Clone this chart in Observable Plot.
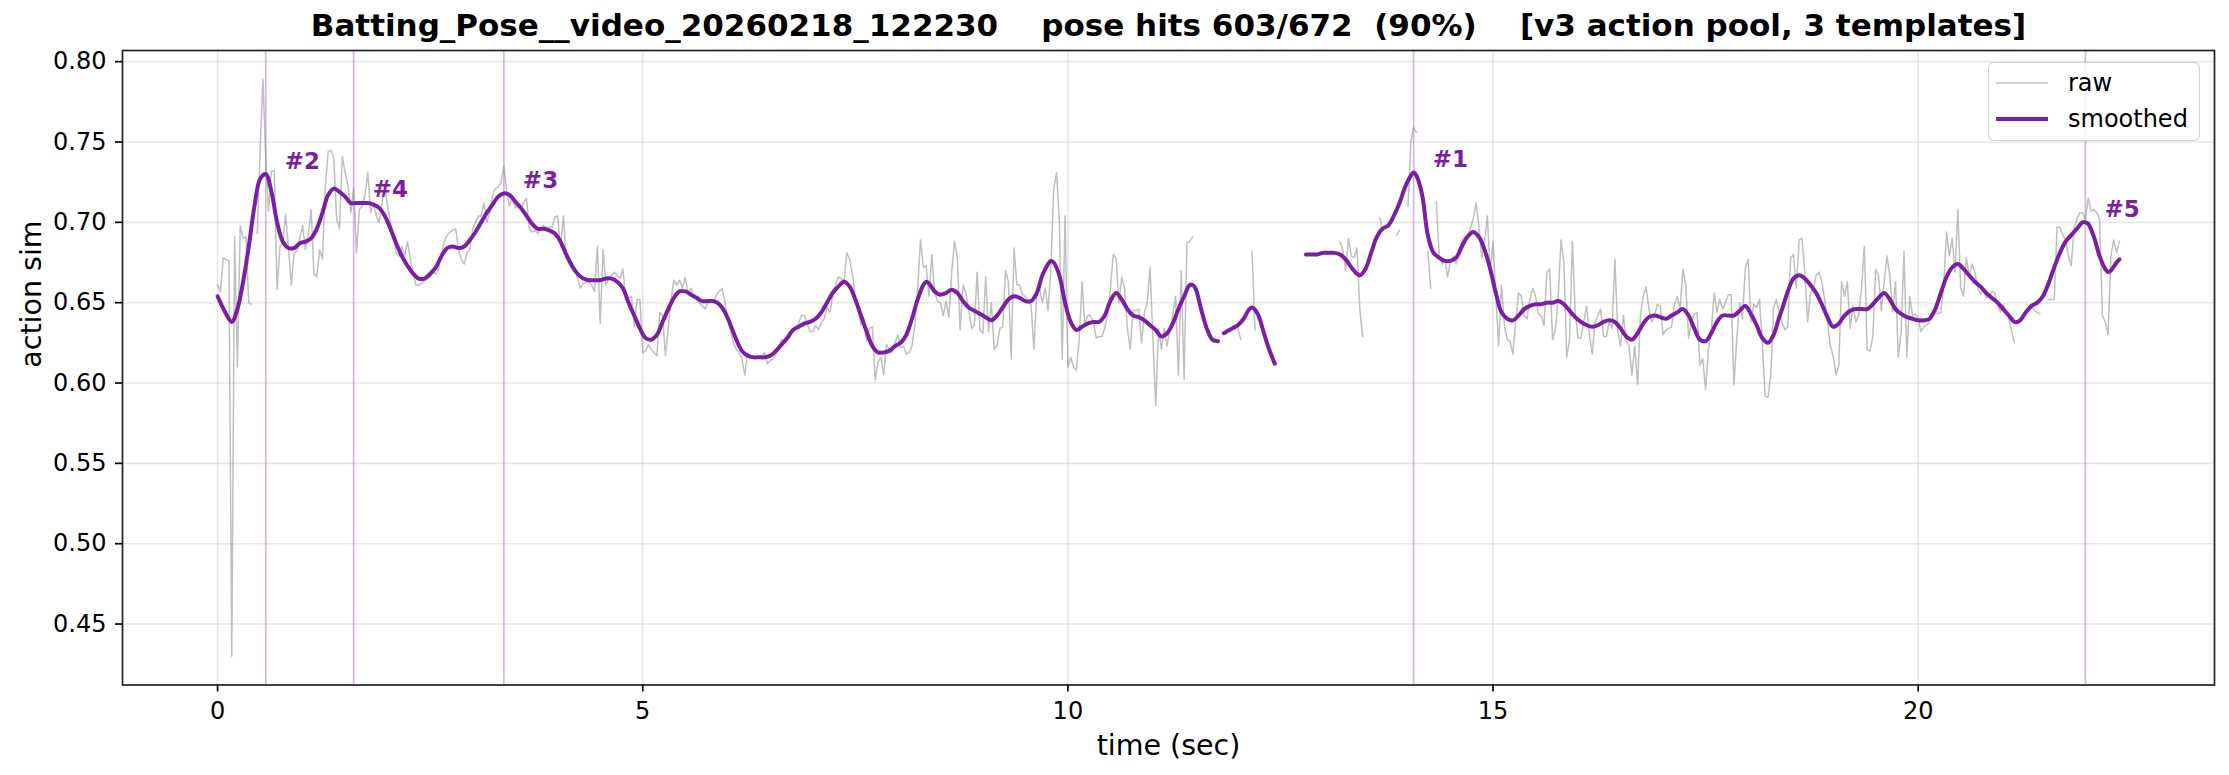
<!DOCTYPE html>
<html>
<head>
<meta charset="utf-8">
<script src="https://cdn.jsdelivr.net/npm/d3@7"></script>
<script src="https://cdn.jsdelivr.net/npm/@observablehq/plot@0.6"></script>
<style>
  html, body { margin: 0; padding: 0; background: #fff; }
  #wrap { position: relative; width: 2229px; height: 775px; font-family: "DejaVu Sans", sans-serif; }
  #legend { position: absolute; left: 1988px; top: 62px; width: 212px; height: 79px;
    border: 1.6px solid rgba(204,204,204,0.9); border-radius: 6px; background: rgba(255,255,255,0.8); box-sizing: border-box; }
  #legend .row { position: absolute; left: 0; height: 30px; display: flex; align-items: center; }
  #legend .sw { width: 52px; margin-left: 7px; margin-right: 20px; }
  #legend .lab { font-size: 24px; color: #000; }
</style>
</head>
<body>
<div id="wrap"></div>
<script>
const FPS = 30;
const titleText = "Batting_Pose__video_20260218_122230    pose hits 603/672  (90%)    [v3 action pool, 3 templates]";
const xLabel = "time (sec)";
const yLabel = "action sim";
const xTicks = [0, 5, 10, 15, 20];
const yTicks = [0.45, 0.50, 0.55, 0.60, 0.65, 0.70, 0.75, 0.80];
const seriesNames = ["raw", "smoothed"];

// raw per-frame action similarity (null = no pose)
const rawV = [
0.661,0.657,0.678,0.677,0.676,0.430,0.691,0.610,0.698,0.690,0.691,0.650,0.649,null,0.693,0.745,0.789,0.740,0.707,0.732,
0.732,0.658,0.685,0.687,0.705,0.685,0.661,0.681,0.682,0.690,0.698,0.683,0.692,0.708,0.668,0.666,0.683,0.677,0.722,0.744,
0.745,0.740,0.702,0.696,0.741,0.731,0.723,0.706,0.721,0.681,0.708,0.710,0.717,0.731,0.706,0.712,0.704,0.700,0.712,0.722,
0.710,0.700,0.692,0.681,0.679,0.685,0.679,0.688,0.677,0.669,0.661,0.661,0.662,0.664,0.665,0.666,0.669,0.668,0.671,0.681,
0.688,0.692,0.694,0.695,0.696,0.683,0.677,0.674,0.681,0.683,0.696,0.700,0.704,0.704,0.712,0.700,0.706,0.717,0.721,0.722,
0.725,0.735,0.719,0.710,0.715,0.709,0.710,0.708,0.712,0.715,0.696,0.694,0.695,0.693,0.696,0.698,0.697,0.697,0.697,0.703,
0.704,0.684,0.704,0.677,0.677,0.675,0.671,0.665,0.659,0.662,0.663,0.663,0.661,0.657,0.685,0.637,0.683,0.661,0.665,0.667,
0.669,0.667,0.665,0.671,0.652,0.653,0.654,0.635,0.652,0.652,0.619,0.620,0.624,0.621,0.619,0.617,0.644,0.642,0.617,0.634,
0.652,0.664,0.661,0.664,0.659,0.666,0.656,0.659,0.654,0.652,0.650,0.648,0.646,0.650,0.650,0.650,0.655,0.657,0.659,0.650,
0.640,0.632,0.625,0.621,0.619,0.615,0.605,0.619,0.617,0.616,0.616,0.616,0.617,0.619,0.612,0.614,0.615,0.618,0.623,0.627,
0.627,0.629,0.632,0.632,0.635,0.637,0.642,0.642,0.637,0.632,0.632,0.636,0.633,0.638,0.640,0.647,0.644,0.654,0.661,0.666,
0.665,0.663,0.681,0.677,0.667,0.654,0.646,0.636,0.640,0.626,0.634,0.635,0.602,0.613,0.616,0.605,0.624,0.621,0.619,0.625,
0.630,0.622,0.623,0.618,0.619,0.623,0.636,0.659,0.689,0.672,0.673,0.654,0.680,0.656,0.651,0.650,0.642,0.651,0.641,0.669,
0.688,0.678,0.633,0.661,0.656,0.646,0.634,0.636,0.669,0.633,0.631,0.666,0.632,0.650,0.621,0.623,0.634,0.635,0.670,0.663,
0.615,0.684,0.661,0.661,0.655,0.654,0.650,0.649,0.621,0.654,0.659,0.650,0.659,0.645,0.671,0.721,0.731,0.700,0.615,0.704,
0.610,0.616,0.610,0.608,0.627,0.663,0.636,0.642,0.642,0.638,0.628,0.629,0.629,0.634,0.642,0.659,0.680,0.678,0.650,0.666,
0.659,0.634,0.621,0.645,0.645,0.646,0.625,0.644,0.650,0.672,0.627,0.586,0.634,0.621,0.634,0.623,0.634,0.642,0.654,0.605,
0.670,0.602,0.687,0.688,0.691,null,null,null,null,null,null,null,null,null,null,null,null,null,null,null,
0.634,0.627,null,null,null,0.682,0.633,null,null,null,null,null,null,null,null,null,null,null,null,null,
null,null,null,null,null,null,null,null,null,null,null,null,null,null,null,null,0.688,0.683,0.670,0.690,
0.679,0.678,0.684,0.646,0.629,null,null,null,null,null,0.703,0.695,null,null,null,null,0.692,0.695,null,null,
0.710,0.750,0.759,0.756,null,null,null,0.682,0.659,null,0.713,0.679,0.674,0.677,0.666,0.676,0.679,0.674,0.683,0.688,
0.691,0.691,0.696,0.702,0.712,0.698,0.678,0.688,0.704,0.669,0.688,0.654,0.623,0.661,0.636,0.627,0.626,0.618,0.638,0.656,
0.654,0.642,0.640,0.652,0.659,0.654,0.643,0.642,0.636,0.669,0.671,0.627,0.633,0.654,0.689,0.675,0.616,0.627,0.688,0.644,
0.628,0.628,0.638,0.648,0.630,0.618,0.638,0.642,0.646,0.629,0.629,0.638,0.634,0.677,0.632,0.623,0.642,0.626,0.623,0.605,
0.623,0.599,0.642,0.654,0.660,0.646,0.638,0.642,0.649,0.648,0.630,0.633,0.634,0.635,0.649,0.654,0.646,0.671,0.661,0.628,
0.638,0.643,0.644,0.611,0.615,0.596,0.621,0.632,0.656,0.644,0.652,0.646,0.650,0.655,0.655,0.599,0.627,0.650,0.640,0.671,
0.677,0.638,0.649,0.647,0.652,0.625,0.592,0.591,0.605,0.647,0.652,0.644,0.638,0.633,0.635,0.678,0.680,0.659,0.689,0.690,
0.669,0.638,0.656,0.659,0.667,0.669,0.663,0.652,0.638,0.623,0.617,0.605,0.611,0.663,0.654,0.663,0.634,0.648,0.638,0.642,
0.659,0.685,0.621,0.620,0.629,0.671,0.667,0.645,0.663,0.679,0.667,0.644,0.663,0.616,0.632,0.682,0.616,0.654,0.642,0.643,
0.640,0.632,0.635,0.636,0.638,0.643,0.644,0.643,0.644,0.661,0.694,0.679,0.690,0.669,0.708,0.659,0.654,0.678,0.667,0.674,
0.669,0.659,0.655,0.659,0.653,0.654,0.657,0.656,0.649,0.644,0.649,0.644,0.640,0.632,0.625,null,null,null,null,null,
0.648,0.645,0.644,0.643,null,null,0.652,0.652,0.652,0.697,0.697,0.692,0.689,0.679,0.673,0.696,0.702,0.706,0.706,0.702,
0.715,0.707,0.708,0.706,0.702,0.642,0.638,0.630,0.679,0.689,0.681,0.688
];

// smoothed curve, sampled (frame index, value); null marks a break
const smoothIdx = [
0,3,5,7,9,11,13,15,17,19,21,23,25,27,29,31,33,35,37,39,41,43,45,47,49,51,53,55,57,59,61,63,65,67,69,71,73,75,77,79,
81,83,85,87,89,91,93,95,97,99,101,103,105,107,109,111,113,115,117,119,121,123,125,127,129,131,133,135,137,139,141,143,145,147,149,151,153,155,157,159,
161,163,165,167,169,171,173,175,177,179,181,183,185,187,189,191,193,195,197,199,201,203,205,207,209,211,213,215,217,219,221,223,225,227,229,231,233,235,237,239,
241,243,245,247,249,250,251,253,255,257,259,261,263,265,267,269,271,273,275,277,279,281,283,285,287,289,291,293,294,295,297,299,301,303,305,307,309,311,313,315,
317,319,321,323,325,327,329,331,333,335,337,339,341,343,344,345,347,349,351,353,354,
355,356,358,360,362,364,365,367,369,371,373,374,
384,386,388,390,392,394,396,398,400,402,403,405,407,409,411,413,415,417,419,421,422,423,425,427,429,431,433,435,437,439,
441,443,445,447,449,451,453,455,457,459,461,463,465,467,469,471,473,475,477,479,481,483,485,487,489,491,493,495,497,499,
501,503,505,507,509,511,513,515,517,519,521,523,525,527,529,531,533,535,537,539,541,543,545,547,549,551,552,554,556,558,
560,562,564,566,568,570,572,574,576,578,580,582,584,586,588,590,592,594,596,598,600,602,604,606,608,610,612,614,616,618,
620,622,624,626,628,630,632,634,635,636,638,640,642,644,646,648,650,652,654,656,658,659,660,662,664,666,667,668,670,671
];
const smoothVal = [
0.654,0.643,0.638,0.646,0.663,0.685,0.710,0.727,0.730,0.719,0.700,0.688,0.684,0.684,0.687,0.688,0.690,0.696,0.706,0.717,
0.721,0.719,0.716,0.712,0.712,0.712,0.712,0.711,0.709,0.704,0.696,0.687,0.679,0.673,0.668,0.665,0.665,0.668,0.672,0.679,
0.684,0.685,0.684,0.685,0.689,0.694,0.700,0.706,0.711,0.716,0.718,0.717,0.713,0.709,0.704,0.699,0.696,0.696,0.695,0.693,
0.688,0.680,0.673,0.668,0.665,0.664,0.664,0.664,0.665,0.665,0.663,0.659,0.650,0.642,0.634,0.628,0.627,0.630,0.638,0.646,
0.653,0.657,0.657,0.655,0.653,0.651,0.651,0.651,0.649,0.644,0.636,0.627,0.620,0.617,0.616,0.616,0.616,0.617,0.620,0.624,
0.628,0.633,0.635,0.637,0.638,0.640,0.644,0.650,0.656,0.660,0.663,0.660,0.652,0.642,0.632,0.623,0.619,0.619,0.620,0.623,
0.625,0.630,0.640,0.652,0.661,0.663,0.662,0.657,0.655,0.656,0.658,0.656,0.651,0.647,0.645,0.643,0.641,0.639,0.642,0.647,
0.652,0.654,0.653,0.651,0.651,0.656,0.667,0.674,0.676,0.675,0.667,0.650,0.638,0.633,0.635,0.637,0.638,0.638,0.642,0.651,
0.656,0.652,0.646,0.642,0.641,0.639,0.636,0.633,0.629,0.631,0.637,0.646,0.654,0.661,0.661,0.659,0.646,0.634,0.627,0.626,null,
0.631,0.632,0.634,0.636,0.640,0.646,0.647,0.643,0.632,0.621,0.612,null,
0.680,0.680,0.680,0.681,0.681,0.681,0.680,0.677,0.672,0.668,0.667,0.671,0.681,0.691,0.696,0.698,0.704,0.712,0.722,0.729,
0.731,0.729,0.717,0.692,0.681,0.678,0.676,0.676,0.678,0.685,
0.691,0.694,0.691,0.683,0.671,0.656,0.644,0.640,0.639,0.642,0.646,0.648,0.649,0.649,0.650,0.650,0.651,0.649,0.645,0.641,
0.638,0.636,0.635,0.636,0.638,0.639,0.638,0.634,0.629,0.627,
0.631,0.637,0.641,0.642,0.641,0.640,0.642,0.644,0.646,0.642,0.634,0.627,0.626,0.631,0.638,0.642,0.642,0.642,0.645,0.648,
0.643,0.636,0.628,0.625,0.630,0.641,0.646,0.657,0.665,0.667,
0.665,0.661,0.656,0.649,0.641,0.635,0.637,0.642,0.645,0.646,0.646,0.646,0.649,0.653,0.656,0.652,0.646,0.643,0.641,0.640,
0.639,0.639,0.640,0.646,0.656,0.666,0.672,0.674,0.671,0.667,
0.663,0.660,0.656,0.653,0.650,0.646,0.642,0.638,0.638,0.639,0.644,0.648,0.650,0.654,0.662,0.672,0.681,0.688,0.692,0.696,
0.700,0.700,0.699,0.691,0.679,0.671,0.669,0.670,0.675,0.677
];

// detected action peaks
const peakLabels = ["#1", "#2", "#3", "#4", "#5"];
const peakFrames = [422, 17, 101, 48, 659];
const peakVals = [0.731, 0.730, 0.718, 0.712, 0.700];

const PURPLE = "#7b1fa2";

const rawData = rawV.map((v, i) => ({t: i / FPS, v}));
const smoothData = smoothIdx.map((f, k) => ({t: f / FPS, v: smoothVal[k]}));
const peaks = peakLabels.map((l, k) => ({label: l, t: peakFrames[k] / FPS, v: peakVals[k]}));

const tMax = (rawV.length - 1) / FPS;
const vals = rawV.filter(v => v != null);
const vMin = d3.min(vals), vMax = d3.max(vals);
const xPad = tMax * 0.05, yPad = (vMax - vMin) * 0.05;

const chart = Plot.plot({
  width: 2229,
  height: 775,
  marginLeft: 122,
  marginRight: 15,
  marginTop: 50,
  marginBottom: 90.5,
  style: {fontFamily: "DejaVu Sans", fontSize: "24px", color: "#000", background: "#fff", overflow: "visible"},
  x: {domain: [-xPad, tMax + xPad]},
  y: {domain: [vMin - yPad, vMax + yPad]},
  marks: [
    Plot.gridX(xTicks, {stroke: "#b0b0b0", strokeOpacity: 0.3, strokeWidth: 1.6}),
    Plot.gridY(yTicks, {stroke: "#b0b0b0", strokeOpacity: 0.3, strokeWidth: 1.6}),
    Plot.ruleX(peaks, {x: "t", stroke: PURPLE, strokeOpacity: 0.32, strokeWidth: 1.7}),
    Plot.line(rawData, {x: "t", y: "v", stroke: "gray", strokeOpacity: 0.5, strokeWidth: 1.5}),
    Plot.line(smoothData, {x: "t", y: "v", stroke: PURPLE, strokeWidth: 4, curve: "catmull-rom"}),
    Plot.text(peaks, {x: "t", y: "v", text: "label", dx: 19, dy: -13, textAnchor: "start", fill: PURPLE, fontWeight: "bold", fontSize: 23}),
    Plot.frame({stroke: "#222", strokeWidth: 1.7}),
    Plot.axisX(xTicks, {tickSize: 7, tickPadding: 9.5, fontSize: 24, strokeWidth: 1.7, label: null}),
    Plot.axisY(yTicks, {tickSize: 7, tickPadding: 9, fontSize: 24, strokeWidth: 1.7, tickFormat: d3.format(".2f"), label: null}),
    Plot.text([titleText], {frameAnchor: "top", dy: -24, fontSize: 31, fontWeight: "bold", lineAnchor: "middle", fill: "#000"}),
    Plot.text([xLabel], {frameAnchor: "bottom", dy: 61, fontSize: 28.5, lineAnchor: "middle", fill: "#000"}),
    Plot.text([yLabel], {frameAnchor: "left", dx: -91, rotate: -90, fontSize: 28.5, lineAnchor: "middle", fill: "#000"})
  ]
});
chart.querySelectorAll("text").forEach(t => { t.setAttribute("xml:space", "preserve"); t.style.whiteSpace = "pre"; });
const wrap = document.getElementById("wrap");
wrap.appendChild(chart);

const legend = document.createElement("div");
legend.id = "legend";
const rowsY = [5, 41];
const widths = [1.5, 4];
const strokes = ["rgba(128,128,128,0.5)", PURPLE];
seriesNames.forEach((name, k) => {
  const row = document.createElement("div");
  row.className = "row";
  row.style.top = rowsY[k] + "px";
  row.innerHTML = `<svg class="sw" width="52" height="10"><line x1="0" x2="52" y1="5" y2="5" stroke="${strokes[k]}" stroke-width="${widths[k]}"/></svg><span class="lab">${name}</span>`;
  legend.appendChild(row);
});
wrap.appendChild(legend);
</script>
</body>
</html>
